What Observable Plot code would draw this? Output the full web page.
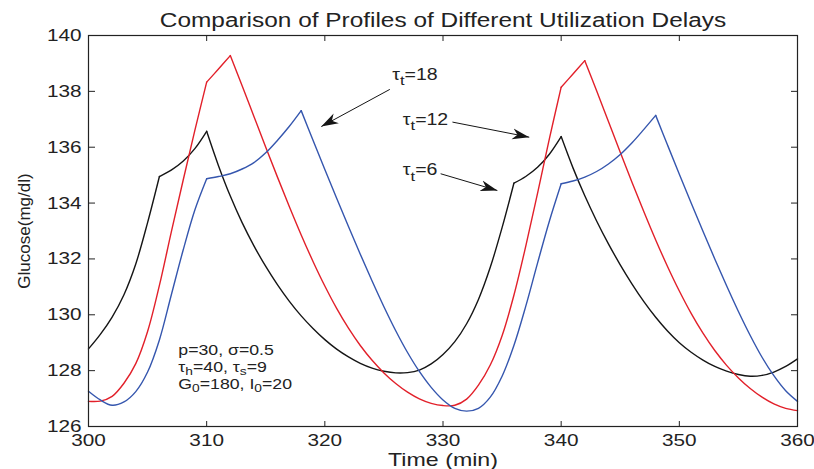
<!DOCTYPE html>
<html><head><meta charset="utf-8">
<script src="https://cdn.jsdelivr.net/npm/d3@7"></script>
<script src="https://cdn.jsdelivr.net/npm/@observablehq/plot@0.6"></script>
<style>
html,body{margin:0;padding:0;background:#fff;}
#chart svg{display:block;}
</style>
</head><body><div id="chart"></div>
<script>
// ---- data ----
const time = d3.range(300, 361); // minutes 300..360
const glucoseTau6 = [
  128.78,129.30,129.92,130.72,131.82,133.30,134.95,135.18,135.50,135.95,
  136.57,135.34,134.25,133.30,132.47,131.73,131.07,130.48,129.96,129.51,
  129.11,128.77,128.49,128.26,128.09,127.98,127.92,127.93,128.02,128.24,
  128.58,129.04,129.68,130.55,131.70,133.12,134.71,134.95,135.28,135.75,
  136.38,135.26,134.26,133.36,132.54,131.79,131.10,130.47,129.91,129.42,
  129.00,128.66,128.38,128.15,127.98,127.86,127.80,127.83,127.95,128.15,
  128.42];
const glucoseTau12 = [
  126.90,126.91,127.08,127.55,128.25,129.40,131.05,132.95,134.80,136.60,
  138.33,138.80,139.28,138.20,137.10,136.00,134.92,133.87,132.86,131.91,
  131.03,130.23,129.52,128.90,128.37,127.92,127.54,127.23,126.99,126.83,
  126.75,126.76,126.98,127.48,128.20,129.25,130.70,132.45,134.35,136.30,
  138.15,138.62,139.10,138.02,136.92,135.82,134.74,133.69,132.68,131.73,
  130.85,130.05,129.34,128.72,128.19,127.74,127.36,127.05,126.81,126.65,
  126.57];
const glucoseTau18 = [
  127.26,126.95,126.76,126.88,127.25,127.95,129.10,130.70,132.30,133.75,
  134.87,134.95,135.05,135.22,135.45,135.80,136.25,136.75,137.31,136.25,
  135.20,134.17,133.16,132.17,131.21,130.29,129.43,128.65,127.97,127.40,
  126.95,126.65,126.55,126.65,127.05,127.80,128.90,130.30,131.85,133.35,
  134.69,134.79,134.93,135.13,135.40,135.74,136.16,136.64,137.14,136.08,
  135.03,134.00,132.99,132.00,131.04,130.12,129.26,128.48,127.82,127.28,
  126.90];
// times at which each profile has a kink (knee / peak)
const kinksTau6 = [306, 310, 336, 340];
const kinksTau12 = [310, 312, 340, 342];
const kinksTau18 = [310, 318, 340, 348];
const seriesNames = ["tau6", "tau12", "tau18"];
const seriesColors = ["#151515", "#e2202a", "#3556ae"];
const xTicks = [300, 310, 320, 330, 340, 350, 360];
const yTicks = [126, 128, 130, 132, 134, 136, 138, 140];
const titleText = "Comparison of Profiles of Different Utilization Delays";
const xLabelText = "Time (min)";
const yLabelText = "Glucose(mg/dl)";
// annotations (data units)
const tauLabels = ["τ_t=18", "τ_t=12", "τ_t=6"];
const tauLabelX = [325.7, 326.6, 326.6];
const tauLabelY = [138.40, 136.80, 134.99];
const arrowX1 = [325.5, 330.8, 329.8];
const arrowY1 = [138.07, 136.90, 135.05];
const arrowX2 = [319.7, 337.3, 334.6];
const arrowY2 = [136.74, 136.36, 134.45];
const paramLines = ["p=30, σ=0.5", "τ_h=40, τ_s=9", "G_0=180, I_0=20"];
const paramX = [307.6, 307.6, 307.6];
const paramY = [128.56, 127.95, 127.33];

// ---- table: split each profile into smooth pieces between kinks ----
const allSeries = [glucoseTau6, glucoseTau12, glucoseTau18];
const allKinks = [kinksTau6, kinksTau12, kinksTau18];
const rows = [];
allSeries.forEach((vals, s) => {
  let seg = 0;
  time.forEach((t, i) => {
    rows.push({t, v: vals[i], s: seriesNames[s], z: `${s}-${seg}`});
    if (allKinks[s].includes(t)) {
      seg++;
      rows.push({t, v: vals[i], s: seriesNames[s], z: `${s}-${seg}`});
    }
  });
});

// filled arrowhead marker
function arrowHead(color) {
  const ns = "http://www.w3.org/2000/svg";
  const m = document.createElementNS(ns, "marker");
  m.setAttribute("viewBox", "-17 -6 18 12");
  m.setAttribute("markerWidth", 18);
  m.setAttribute("markerHeight", 12);
  m.setAttribute("markerUnits", "userSpaceOnUse");
  m.setAttribute("refX", 0);
  m.setAttribute("refY", 0);
  m.setAttribute("orient", "auto");
  const p = document.createElementNS(ns, "path");
  p.setAttribute("d", "M0,0L-17,-5.5L-12,0L-17,5.5Z");
  p.setAttribute("fill", color);
  p.setAttribute("stroke", "none");
  m.append(p);
  return m;
}

const axisColor = "#222";
const svg = Plot.plot({
  width: 814, height: 469,
  marginLeft: 88, marginRight: 17, marginTop: 35, marginBottom: 43,
  style: {fontFamily: "'Liberation Sans', Arial, sans-serif", fontSize: "17px", background: "#fff", color: axisColor},
  x: {domain: [300, 360], label: null},
  y: {domain: [126, 140], label: null},
  color: {domain: seriesNames, range: seriesColors},
  marks: [
    Plot.axisX({ticks: xTicks, anchor: "bottom", tickSize: -5, tickFormat: () => "", label: null}),
    Plot.axisX({ticks: xTicks, anchor: "top", tickSize: -5, tickFormat: () => "", label: null}),
    Plot.axisY({ticks: yTicks, anchor: "left", tickSize: -7, tickFormat: () => "", label: null}),
    Plot.axisY({ticks: yTicks, anchor: "right", tickSize: -7, tickFormat: () => "", label: null}),
    Plot.axisX({ticks: xTicks, anchor: "bottom", tickSize: 0, tickPadding: 7, label: null, fontSize: 17}),
    Plot.axisY({ticks: yTicks, anchor: "left", tickSize: 0, tickPadding: 7, label: null, fontSize: 17}),
    Plot.line(rows, {x: "t", y: "v", z: "z", stroke: "s", strokeWidth: 1.4, curve: "catmull-rom"}),
    Plot.frame({stroke: axisColor, strokeWidth: 1.2}),
    Plot.link(tauLabels, {x1: arrowX1, y1: arrowY1, x2: arrowX2, y2: arrowY2, stroke: "#151515", strokeWidth: 1, markerEnd: arrowHead}),
    Plot.text(tauLabels, {x: tauLabelX, y: tauLabelY, text: d => d, textAnchor: "start", lineAnchor: "bottom", fontSize: 16, fill: "#222"}),
    Plot.text(paramLines, {x: paramX, y: paramY, text: d => d, textAnchor: "start", lineAnchor: "bottom", fontSize: 14.5, fill: "#222"}),
    Plot.text([titleText], {frameAnchor: "top", dy: -9, lineAnchor: "bottom", textAnchor: "middle", fontSize: 20, fill: "#222"}),
    Plot.text([xLabelText], {frameAnchor: "bottom", dy: 39, lineAnchor: "bottom", textAnchor: "middle", fontSize: 19, fill: "#222"}),
    Plot.text([yLabelText], {frameAnchor: "left", dx: -64, rotate: -90, textAnchor: "middle", fontSize: 17, fill: "#222"})
  ]
});
document.getElementById("chart").append(svg);

// subscripts ("a_b" -> a with subscript b)
const NS = "http://www.w3.org/2000/svg";
svg.querySelectorAll("text").forEach(el => {
  const s = el.textContent;
  if (!s.includes("_") || el.children.length) return;
  const fs = parseFloat(getComputedStyle(el).fontSize) || 16;
  const big = fs >= 15.5;
  const shift = (big ? 0.33 : 0.18) * fs;
  el.textContent = "";
  const parts = s.split(/_(\w)/);
  parts.forEach((p, i) => {
    if (!p) return;
    const ts = document.createElementNS(NS, "tspan");
    ts.textContent = p;
    if (i % 2 === 1) { ts.setAttribute("dy", shift.toFixed(1)); ts.setAttribute("font-size", ((big ? 0.85 : 0.78) * fs).toFixed(1)); }
    else if (i > 0) { ts.setAttribute("dy", (-shift).toFixed(1)); }
    el.append(ts);
  });
});
// horizontal stretch of text, as in the reference figure
const K = 1.22;
svg.querySelectorAll("text").forEach(el => {
  if (el.textContent === yLabelText) return;
  const len = el.getComputedTextLength();
  if (len > 0) { el.setAttribute("textLength", (len * K).toFixed(1)); el.setAttribute("lengthAdjust", "spacingAndGlyphs"); }
});
</script>
</body></html>
